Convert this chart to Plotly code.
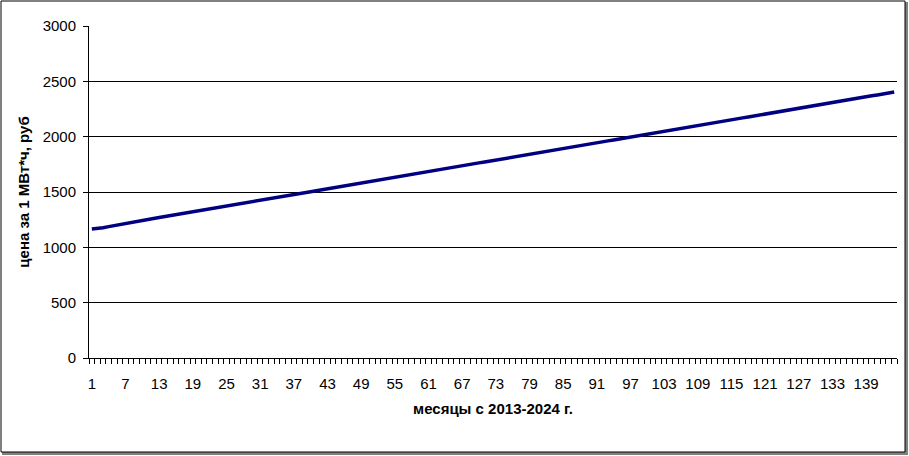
import plotly.graph_objects as go

months = list(range(1, 145))
prices = [
    1165, 1168, 1177, 1187, 1197, 1207, 1216, 1225, 1234, 1243, 1252, 1260,
    1269, 1278, 1286, 1295, 1304, 1312, 1321, 1330, 1338, 1347, 1355, 1364,
    1373, 1381, 1390, 1399, 1407, 1416, 1425, 1433, 1442, 1451, 1459, 1468,
    1477, 1485, 1494, 1503, 1511, 1520, 1529, 1537, 1546, 1555, 1563, 1572,
    1581, 1589, 1598, 1607, 1615, 1624, 1633, 1641, 1650, 1659, 1667, 1676,
    1685, 1693, 1702, 1711, 1719, 1728, 1737, 1745, 1754, 1763, 1771, 1780,
    1789, 1797, 1806, 1815, 1823, 1832, 1841, 1849, 1858, 1866, 1875, 1884,
    1892, 1901, 1910, 1918, 1927, 1936, 1944, 1953, 1962, 1970, 1979, 1988,
    1996, 2005, 2014, 2022, 2031, 2040, 2048, 2057, 2066, 2074, 2083, 2092,
    2100, 2109, 2118, 2126, 2135, 2144, 2152, 2161, 2170, 2178, 2187, 2196,
    2204, 2213, 2222, 2230, 2239, 2248, 2256, 2265, 2274, 2282, 2291, 2300,
    2308, 2317, 2325, 2334, 2343, 2351, 2360, 2369, 2377, 2386, 2395, 2403,
]
x_ticks = list(range(1, 140, 6))
y_ticks = [0, 500, 1000, 1500, 2000, 2500, 3000]
x_title = "месяцы с 2013-2024 г."
y_title = "цена за 1 МВт*ч, руб"

W, H = 909, 456
L, R, T, B = 89, 12, 26, 98
pw, ph = W - L - R, H - T - B

def px2paper_x(px):
    return (px - L) / pw

def px2paper_y(py):
    return (H - B - py) / ph

FAM = "Liberation Sans, Arial, sans-serif"

fig = go.Figure()
fig.add_trace(go.Scatter(
    x=months, y=prices, mode="lines",
    line=dict(color="#000080", width=3.5),
    hoverinfo="skip", showlegend=False,
))

fig.update_layout(
    width=W, height=H,
    margin=dict(l=L, r=R, t=T, b=B, autoexpand=False),
    paper_bgcolor="#ffffff", plot_bgcolor="#ffffff",
    font=dict(family=FAM, size=15, color="#000000"),
    xaxis=dict(
        range=[0.5, 144.5], tickmode="array", tickvals=x_ticks,
        ticktext=[str(v) for v in x_ticks], ticks="", showgrid=False,
        showline=True, linecolor="#000000", linewidth=1, zeroline=False,
        ticklabelstandoff=12,
        minor=dict(tickmode="linear", tick0=0.5, dtick=1, ticks="outside",
                   ticklen=5, tickcolor="#000000", tickwidth=1, showgrid=False),
        title=dict(text="<b>" + x_title + "</b>", standoff=12,
                   font=dict(family=FAM, size=15)),
    ),
    yaxis=dict(
        range=[0, 3000], tickmode="array", tickvals=y_ticks,
        ticks="outside", ticklen=5, tickcolor="#000000",
        showgrid=True, gridcolor="#000000", gridwidth=1,
        showline=True, linecolor="#000000", linewidth=1, zeroline=False,
        ticklabelstandoff=4,
        title=dict(text="<b>" + y_title + "</b>", standoff=9,
                   font=dict(family=FAM, size=15)),
    ),
    shapes=[
        dict(type="line", xref="paper", yref="paper",
             x0=px2paper_x(906.5), x1=px2paper_x(906.5),
             y0=px2paper_y(2), y1=px2paper_y(454),
             line=dict(color="#808080", width=3)),
        dict(type="line", xref="paper", yref="paper",
             x0=px2paper_x(2), x1=px2paper_x(908),
             y0=px2paper_y(453.5), y1=px2paper_y(453.5),
             line=dict(color="#808080", width=3)),
        dict(type="rect", xref="paper", yref="paper",
             x0=px2paper_x(1), x1=px2paper_x(905),
             y0=px2paper_y(452), y1=px2paper_y(1),
             line=dict(color="#000000", width=1), layer="above"),
    ],
)

fig.write_html("out.html", config={"displayModeBar": False},
               post_script="document.body.style.margin='0';document.body.style.padding='0';")
